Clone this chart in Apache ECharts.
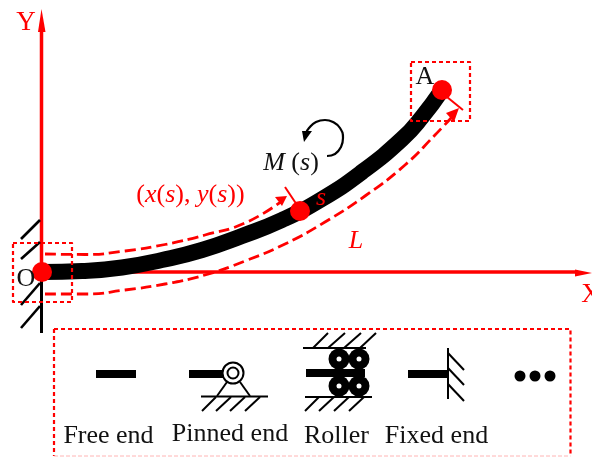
<!DOCTYPE html>
<html><head><meta charset="utf-8">
<style>html,body{margin:0;padding:0;background:#fff}#c{width:592px;height:457px}</style>
<script src="https://cdn.jsdelivr.net/npm/echarts@6/dist/echarts.min.js"></script>
</head><body><div id="c"></div>
<script>
const beam=[[42,272],[82,271],[122,267.5],[162,260],[202,250],[242,236],[282,220],[322,199],[362,172],[402,139],[422,117],[442,90]];
const upperPath=[[45,254],[85,254.5],[125,251],[165,244.5],[205,235],[245,223],[282,201]];
const lowerPath=[[45,294],[85,294],[125,290],[165,284],[205,275],[245,261],[285,244],[325,222],[365,196],[405,165],[435,135],[452,117]];
const yAxisLine=[[41.5,272],[41.5,30]];
const xAxisLine=[[42,272],[578,272]];
const wallLine=[[41.5,272],[41.5,333]];
const wallHatch=[[[21,239],[40,220]],[[21,259],[40,242]],[[21,305],[40,283]],[[21,328],[40,306]]];
const boxO=[[13,243],[72,243],[72,302],[13,302],[13,243]];
const boxA=[[411,62],[470,62],[470,121],[411,121],[411,62]];
const boxLegend=[[54,329],[570.5,329],[570.5,456]];
const boxLegendLeft=[[54,329],[54,456]];
const boxLegendBottom=[[54,456],[570.5,456]];
const tickS=[[285,187],[297,205]];
const tickA=[[447,97],[463,110]];
const momentArc=[[327,156],[335,154],[341,147],[343,138],[340,128],[333,122],[325,120],[316,122],[309,128],[306,133]];
const arrowheads=[[[287,196],[275,197],[282,206]],[[459,108],[446,113],[454,122]],[[304,142],[302,131],[312,131]],[[41.5,9],[38,32],[45.5,32]],[[592,273],[575,269.5],[575,276.5]]];
const freeBar=[[96,374],[136,374]];
const pinnedBar=[[189,374],[225,374]];
const fixedBar=[[408,374],[448,374]];
const rollerBar=[[306,373],[365,373]];
const thinLines=[
 [[201,396.5],[268,396.5]],[[217,396],[227,382]],[[250,396],[240,382]],
 [[202,411],[216,397]],[[216,411],[231,397]],[[230,411],[245,397]],[[245,411],[260,397]],
 [[303,348],[366,348]],[[313,348],[328,333]],[[328,348],[345,333]],[[344,348],[361,333]],[[360,348],[376,333]],
 [[305,397],[372,397]],[[305,411],[319,397]],[[319,411],[334,397]],[[334,411],[349,397]],[[349,411],[364,397]],
 [[448,348],[448,399]],[[448,353],[464,370]],[[448,368],[464,385]],[[448,384],[464,401]]];
const redDots=[[42,272],[300,211],[442,90]];
const dots=[[520,376],[535,376],[550,376]];
const rollers=[[339,359],[359,359],[339,386],[359,386]];
const pin=[[233,373]];
const texts=[
 [26,23,'{y|Y}'],[26,279,'{k|O}'],[425,77,'{k|A}'],[591,295,'{y|X}'],
 [291,163,'{ki|M}{k|\u00a0(}{ki|s}{k|)}'],[321,198,'{ri|s}'],[356,241,'{ri|L}'],
 [190.5,195,'{rs|(}{rsi|x}{rs|(}{rsi|s}{rs|), }{rsi|y}{rs|(}{rsi|s}{rs|))}'],
 [108.5,436,'{k|Free end}'],[230,434,'{k|Pinned end}'],[336.5,436,'{k|Roller}'],[436.5,436,'{k|Fixed end}']];

const F='"Liberation Serif"';
const RED='#ff0000';
const rich={
 y:{fontFamily:F,fontSize:27,color:RED},
 k:{fontFamily:F,fontSize:26,color:'#111'},
 ki:{fontFamily:F,fontSize:26,color:'#111',fontStyle:'italic'},
 ri:{fontFamily:F,fontSize:26,color:RED,fontStyle:'italic'},
 rs:{fontFamily:F,fontSize:26,color:RED},
 rsi:{fontFamily:F,fontSize:26,color:RED,fontStyle:'italic'}
};
function line(data,color,width,extra){
 extra=extra||{};
 return {type:'line',data,showSymbol:false,symbol:'none',silent:true,clip:false,
  lineStyle:{color,width,type:extra.dash||'solid',cap:'butt',join:'round'},
  smooth:extra.smooth||false,z:extra.z||2};
}
function dotsSeries(data,size,color,z,border){
 return {type:'scatter',data,symbol:'circle',symbolSize:size,silent:true,z,
  itemStyle:{color,opacity:1,borderColor:border||color,borderWidth:border?2:0}};
}
const series=[
 line(xAxisLine,RED,3.5),line(yAxisLine,RED,3.5),line(wallLine,'#000',3),
 ...wallHatch.map(h=>line(h,'#000',2.6)),
 line(beam,'#000',16,{smooth:0.5,z:4}),
 line(upperPath,RED,2.8,{smooth:0.5,dash:[11,5],z:5}),
 line(lowerPath,RED,2.8,{smooth:0.5,dash:[11,5],z:5}),
 line(boxO,RED,2.2,{dash:[4,3],z:5}),line(boxA,RED,2.2,{dash:[4,3],z:5}),
 line(boxLegend,RED,2.2,{dash:[4,3]}),line(boxLegendLeft,RED,2.2,{dash:[4,3]}),
 line(boxLegendBottom,'#ffb4b4',1,{dash:[4,2]}),
 line(tickS,RED,2,{z:5}),line(tickA,RED,2,{z:5}),
 line(momentArc,'#000',2.2,{smooth:0.5}),
 line(freeBar,'#000',8),line(pinnedBar,'#000',8),line(fixedBar,'#000',8),line(rollerBar,'#000',8,{z:7}),
 ...thinLines.map(l=>line(l,'#000',2)),
 {type:'custom',silent:true,z:6,clip:false,data:arrowheads.map((a,i)=>i),
  renderItem:(p,api)=>{const i=api.value(0);const pts=arrowheads[i].map(c=>api.coord(c));
   return {type:'polygon',shape:{points:pts},style:{fill:i===2?'#000':RED}};},encode:{x:[],y:[]}},
 dotsSeries(redDots,20,RED,8),dotsSeries(dots,11,'#000',6),
 dotsSeries(rollers,21,'#000',6),dotsSeries(rollers,5,'#fff',8),
 dotsSeries(pin,21,'#fff',6,'#000'),dotsSeries(pin,11,'#fff',7,'#000'),
 {type:'scatter',data:texts.map(t=>({value:[t[0],t[1]]})),symbolSize:0,silent:true,z:9,
  itemStyle:{opacity:1},
  label:{show:true,position:'inside',formatter:p=>texts[p.dataIndex][2],rich,align:'center',verticalAlign:'middle'}}
];
const chart=echarts.init(document.getElementById('c'),null,{renderer:'canvas'});
chart.setOption({animation:false,backgroundColor:'#fff',
 grid:{left:0,right:0,top:0,bottom:0},
 xAxis:{type:'value',min:0,max:592,show:false},
 yAxis:{type:'value',min:0,max:457,inverse:true,show:false},
 series});
</script></body></html>
